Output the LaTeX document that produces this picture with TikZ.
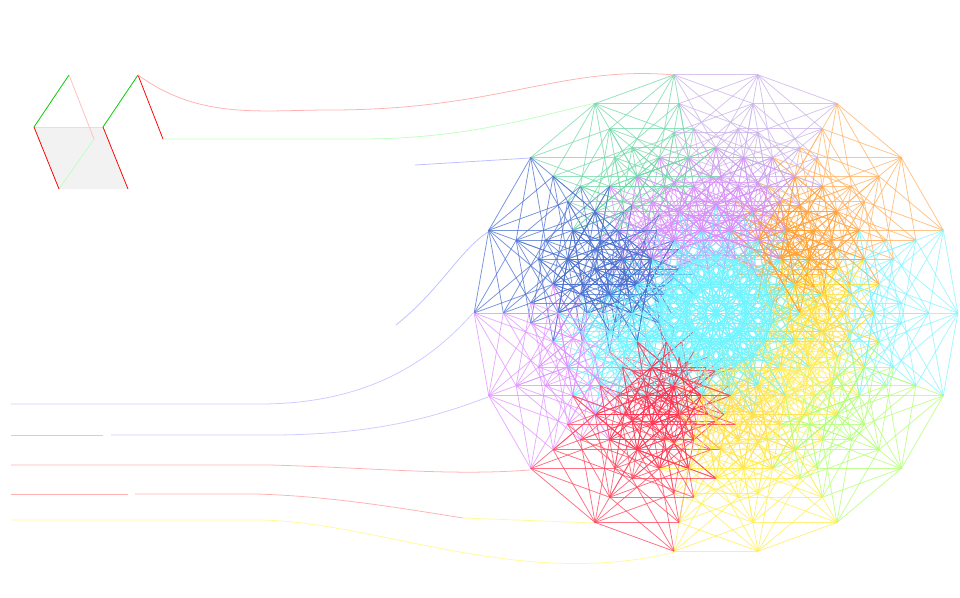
\documentclass[tikz,border=0pt]{standalone}
\usepackage{tikz}

\definecolor{c0}{HTML}{80F4FF}
\definecolor{c1}{HTML}{FFB060}
\definecolor{c2}{HTML}{C8B0E8}
\definecolor{c3}{HTML}{70D8A8}
\definecolor{c4}{HTML}{4A70D0}
\definecolor{c5}{HTML}{E090FF}
\definecolor{c6}{HTML}{FF4058}
\definecolor{c7}{HTML}{FFEE50}
\definecolor{c8}{HTML}{B0FF70}
\definecolor{c9}{HTML}{70F4FF}
\definecolor{c10}{HTML}{FFE040}
\definecolor{c11}{HTML}{FFA030}
\definecolor{c12}{HTML}{D890F8}
\definecolor{c13}{HTML}{D890F8}
\definecolor{c14}{HTML}{4A70D0}
\definecolor{c15}{HTML}{70F4FF}
\definecolor{c16}{HTML}{FF3050}
\definecolor{c17}{HTML}{FFE050}
\definecolor{c18}{HTML}{FFEE60}

\begin{document}
\begin{tikzpicture}[x=0.025cm, y=-0.025cm, line width=0.55pt,
    declare function={bt(\n,\i)=mod(floor(\n/(2^\i)),2);}]
	\useasboundingbox (0,0) rectangle (960,598);

	% left cube
	\fill[gray!10] (34,127) -- (103,127) -- (128,189) -- (59,189) -- cycle;
	\draw[violet!15] (34,127) -- (103,127);
	\draw[green!80!black] (34,127) -- (69,75);
	\draw[red!25] (69,75) -- (94,139);
	\draw[green!25] (94,139) -- (59,189);
	\draw[red] (34,127) -- (59,189);
	\draw[red] (103,127) -- (128,189);
	\draw[green!80!black] (103,127) -- (138,75);
	\draw[red] (138,75) -- (163,139);

	% curves into the polygon
	\draw[red!30] (138,75) .. controls (200,120) and (260,110) .. (330,110)
	        .. controls (500,110) and (560,65) .. (675,75);
	\draw[green!25] (163,139) -- (360,139) .. controls (470,139) and (540,115) .. (596,103);
	\draw[blue!25] (415,165) -- (530,158);
	\draw[blue!25] (396,325) .. controls (440,290) and (460,250) .. (488,232);
	\draw[blue!20] (11,404) -- (260,404) .. controls (380,404) and (440,350) .. (473,313);
	\draw[blue!20] (11,435) -- (103,435);
	\draw[blue!20] (111,435) -- (270,435) .. controls (380,435) and (440,415) .. (488,397);
	\draw[red!30] (11,465) -- (270,465) .. controls (380,468) and (450,476) .. (530,470);
	\draw[red!30] (11,494) -- (128,494);
	\draw[red!30] (135,494) -- (255,494) .. controls (330,496) and (400,508) .. (463,518);
	\draw[yellow!40] (463,518) -- (596,523);
	\draw[yellow!40] (11,520) -- (260,520) .. controls (380,522) and (520,590) .. (675,552);

	% projected 9-cube
	\foreach \n in {0,...,511}{
		\pgfmathsetmacro\px{716+84*(bt(\n,0)*cos(0)+bt(\n,1)*cos(20)+bt(\n,2)*cos(40)+bt(\n,3)*cos(60)+bt(\n,4)*cos(80)+bt(\n,5)*cos(100)+bt(\n,6)*cos(120)+bt(\n,7)*cos(140)+bt(\n,8)*cos(160)-0.5)}
		\pgfmathsetmacro\py{313+84*(bt(\n,1)*sin(20)+bt(\n,2)*sin(40)+bt(\n,3)*sin(60)+bt(\n,4)*sin(80)+bt(\n,5)*sin(100)+bt(\n,6)*sin(120)+bt(\n,7)*sin(140)+bt(\n,8)*sin(160)-2.8356)}
		\foreach \i in {0,...,8}{
			\pgfmathtruncatemacro\b{bt(\n,\i)}
			\ifnum\b=0
				\pgfmathsetmacro\qx{\px+84*cos(20*\i)}
				\pgfmathsetmacro\qy{\py+84*sin(20*\i)}
				\pgfmathsetmacro\mx{(\px+\qx)/2-716}
				\pgfmathsetmacro\my{313-(\py+\qy)/2}
				\pgfmathsetmacro\rr{veclen(\mx,\my)}
				\pgfmathsetmacro\aa{atan2(\my,\mx)}
				\pgfmathtruncatemacro\k{\rr<70 ? 9 : (mod(floor((\aa+380)/40),9)+(\rr<140 ? 10 : 0))}
				\draw[color=c\k, opacity=0.75] (\px,\py) -- (\qx,\qy);
			\fi
		}
	}
\end{tikzpicture}
\end{document}
